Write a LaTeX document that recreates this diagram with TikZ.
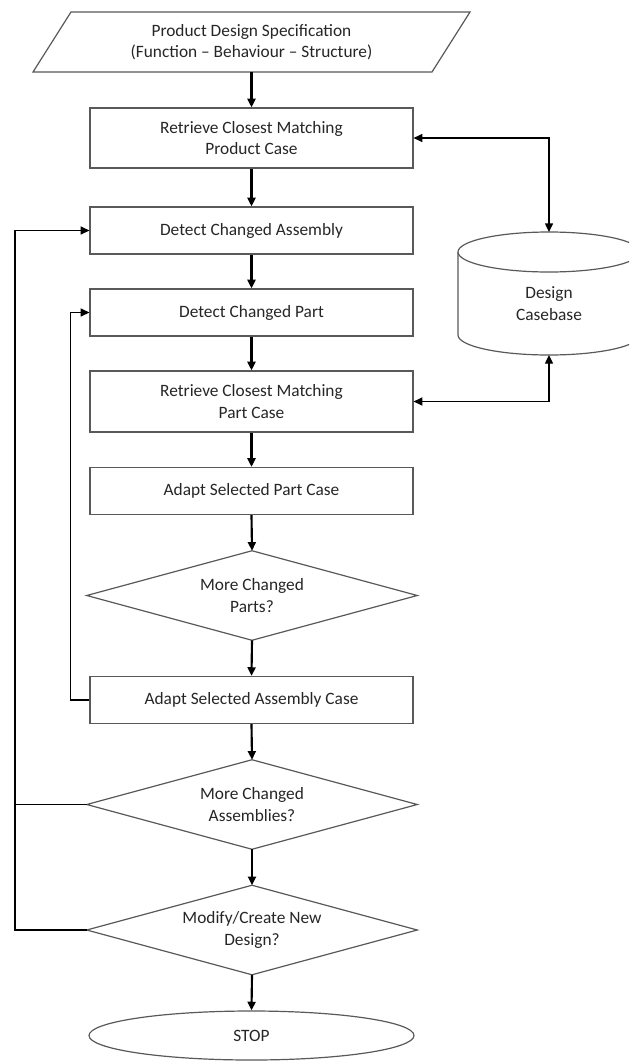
\documentclass[tikz,border=0pt]{standalone}
\usepackage{fontspec}
\setmainfont{Carlito}
\usetikzlibrary{shapes.geometric,arrows.meta}

\tikzset{
  txt/.style={font=\fontsize{13}{16}\selectfont, text=black!85, align=center},
  procbox/.style={txt, draw=black!65, line width=0.9pt, rectangle, inner sep=0pt,
    minimum width=242.25pt, minimum height=35.25pt},
  tallbox/.style={procbox, minimum height=45pt},
  decision/.style={txt, rectangle, inner sep=0pt,
    minimum width=247.5pt, minimum height=66.75pt},
  terminal/.style={txt, draw=black!65, line width=0.9pt, ellipse, inner sep=0pt,
    minimum width=243.75pt, minimum height=36.75pt},
  flow/.style={draw=black, line width=1.6pt, -{Triangle[length=6.5pt,width=6pt]}},
  link/.style={draw=black, line width=1pt, -{Triangle[length=6.5pt,width=6pt]}},
  plain/.style={draw=black, line width=1pt},
  both/.style={draw=black, line width=1pt, {Triangle[length=6.5pt,width=6pt]}-{Triangle[length=6.5pt,width=6pt]}},
  shapeline/.style={draw=black!65, line width=0.9pt}
}

\begin{document}
\begin{tikzpicture}[x=0.75pt, y=-0.75pt]
  \useasboundingbox (0,0) rectangle (629,1061);
  \clip (0,0) rectangle (629,1061);
  \fill[white] (0,0) rectangle (629,1061);

  % input specification (parallelogram)
  \draw[shapeline] (71,12) -- (470,12) -- (432,72) -- (33,72) -- cycle;
  \node[txt, rectangle, inner sep=0pt, minimum width=240pt, minimum height=45pt] (spec) at (251.5,42)
    {Product Design Specification\\(Function -- Behaviour -- Structure)};

  % main process chain
  \node[tallbox] (rprod) at (251.5,138) {Retrieve Closest Matching\\Product Case};
  \node[procbox] (dasm)  at (251.5,230.5) {Detect Changed Assembly};
  \node[procbox] (dpart) at (251.5,312.5) {Detect Changed Part};
  \node[tallbox, minimum height=45.75pt] (rpart) at (251.5,401.5) {Retrieve Closest Matching\\Part Case};
  \node[procbox] (apart) at (251.5,491) {Adapt Selected Part Case};
  \node[decision] (qpart) at (252,595.5) {More Changed\\Parts?};
  \node[procbox] (aasm)  at (251.5,700) {Adapt Selected Assembly Case};
  \node[decision] (qasm)  at (252,804.5) {More Changed\\Assemblies?};
  \node[decision] (qnew)  at (252,930) {Modify/Create New\\Design?};
  \node[terminal] (stop)  at (251.5,1035.5) {STOP};

  % decision outlines
  \foreach \q in {qpart,qasm,qnew}
    \draw[shapeline] (\q.north) -- (\q.east) -- (\q.south) -- (\q.west) -- cycle;

  % design casebase (cylinder)
  \draw[shapeline, fill=white] (458,252) -- (458,335)
    arc[start angle=180, end angle=0, x radius=91, y radius=20]
    -- (640,252);
  \draw[shapeline, fill=white] (549,252) ellipse[x radius=91, y radius=20];
  \node[txt] (db) at (549,303.5) {Design\\Casebase};
  \coordinate (dbtop) at (549,232);
  \coordinate (dbbot) at (549,355);

  % main flow arrows
  \draw[flow] (spec.south) -- (rprod.north);
  \draw[flow] (rprod.south) -- (dasm.north);
  \draw[flow] (dasm.south) -- (dpart.north);
  \draw[flow] (dpart.south) -- (rpart.north);
  \draw[flow] (rpart.south) -- (apart.north);
  \draw[flow] (apart.south) -- (qpart.north);
  \draw[flow] (qpart.south) -- (aasm.north);
  \draw[flow] (aasm.south) -- (qasm.north);
  \draw[flow] (qasm.south) -- (qnew.north);
  \draw[flow] (qnew.south) -- (stop.north);

  % casebase exchange
  \draw[both] (rprod.east) -| (dbtop);
  \draw[both] (rpart.east) -| (dbbot);

  % loops back
  \coordinate (outer) at (15,804.5);
  \draw[link] (qasm.west) -- (outer) |- (dasm.west);
  \draw[plain] (qnew.west) -- (qnew.west -| outer) -- (outer);
  \draw[link] (aasm.west) -- ++(-19,0) |- (dpart.west);
\end{tikzpicture}
\end{document}
